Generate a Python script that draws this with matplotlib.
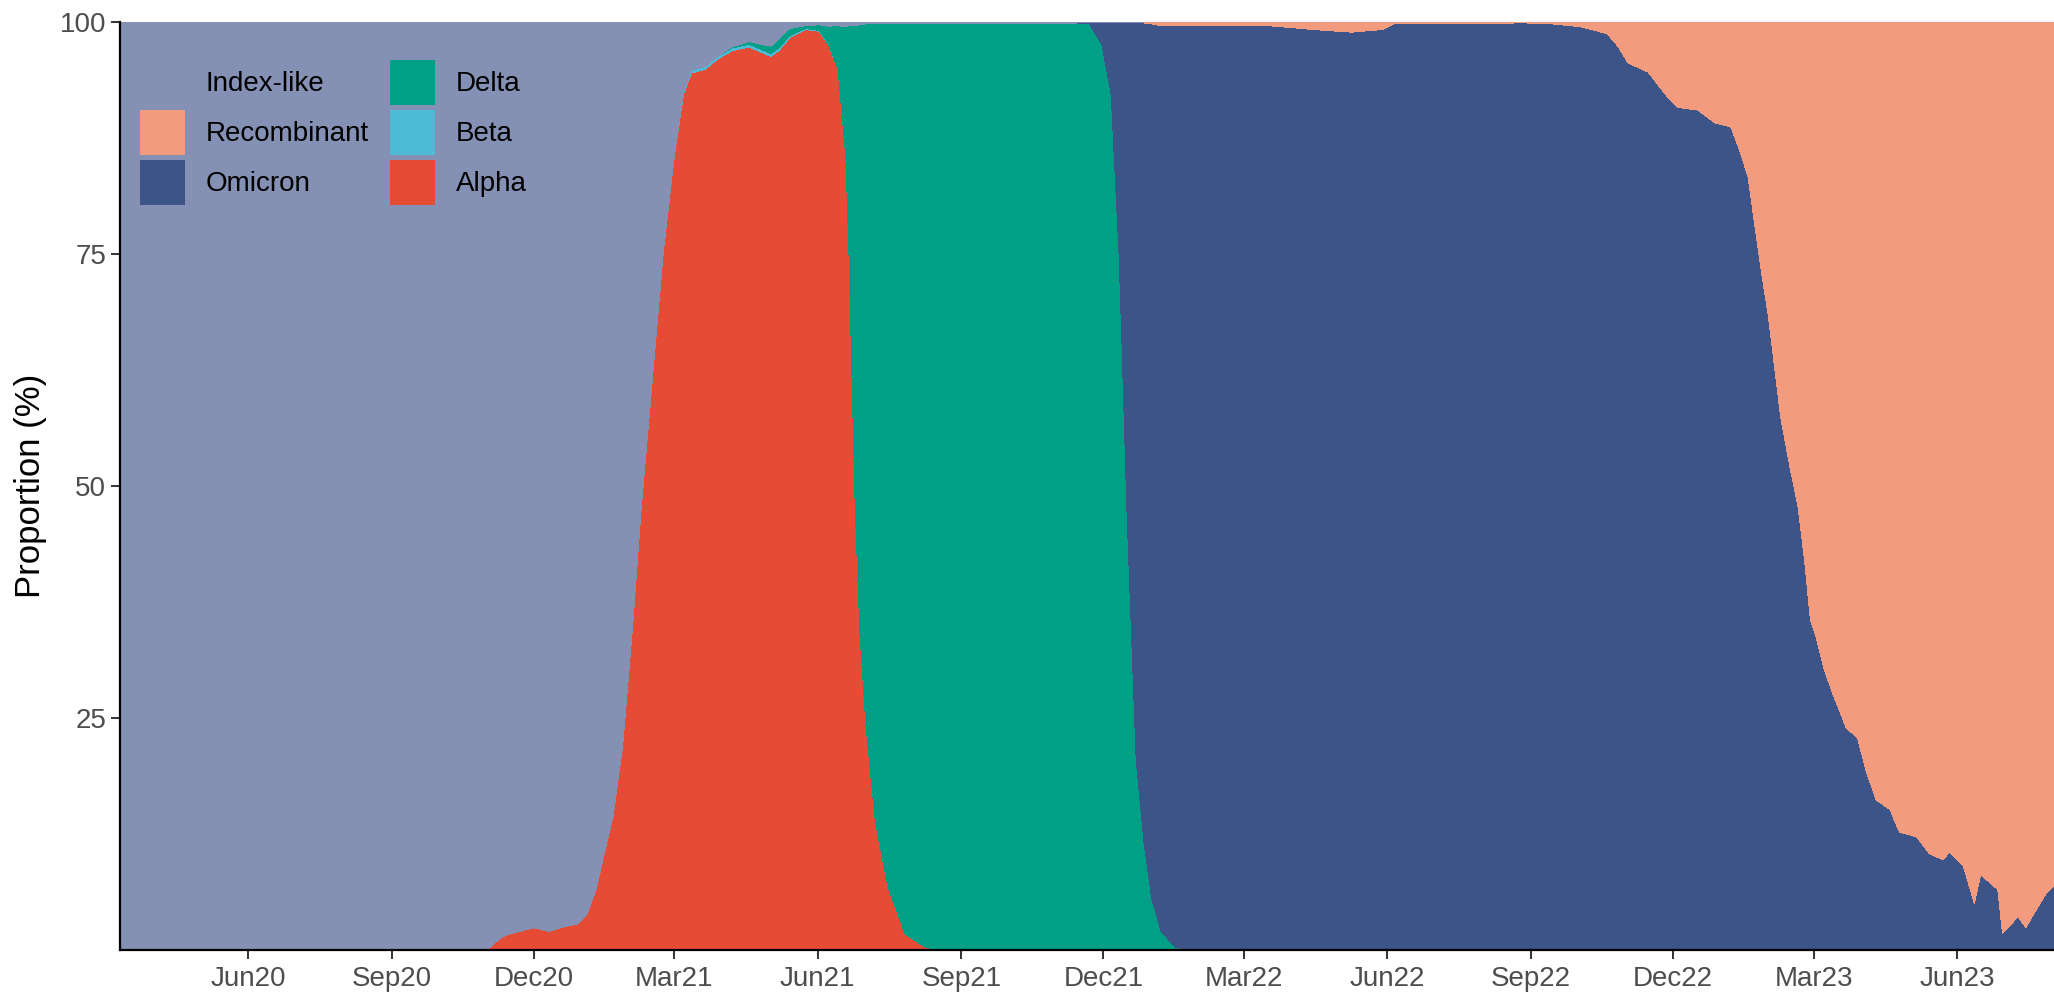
import matplotlib
matplotlib.use("Agg")
import matplotlib.pyplot as plt
import matplotlib.dates as mdates
import numpy as np
import pandas as pd

# sampled dates (irregular: denser where a variant takes over)
dates = [
    "2020-03-11", "2020-11-01", "2020-11-03", "2020-11-10", "2020-11-15", "2020-11-22", "2020-12-01", "2020-12-11", "2020-12-18", "2020-12-29",
    "2021-01-04", "2021-01-10", "2021-01-14", "2021-01-21", "2021-01-27", "2021-02-02", "2021-02-08", "2021-02-15", "2021-02-22", "2021-03-01",
    "2021-03-07", "2021-03-12", "2021-03-21", "2021-03-28", "2021-04-07", "2021-04-18", "2021-04-25", "2021-05-02", "2021-05-07", "2021-05-14",
    "2021-05-24", "2021-06-02", "2021-06-08", "2021-06-14", "2021-06-19", "2021-06-21", "2021-06-23", "2021-06-25", "2021-06-28", "2021-07-02",
    "2021-07-08", "2021-07-16", "2021-07-27", "2021-08-09", "2021-08-17", "2021-11-22", "2021-11-30", "2021-12-06", "2021-12-09", "2021-12-11",
    "2021-12-13", "2021-12-16", "2021-12-19", "2021-12-22", "2021-12-27", "2022-01-01", "2022-01-07", "2022-01-16", "2022-01-25", "2022-03-17",
    "2022-04-14", "2022-05-09", "2022-05-29", "2022-06-05", "2022-08-28", "2022-09-14", "2022-10-02", "2022-10-14", "2022-10-20", "2022-10-27",
    "2022-11-02", "2022-11-15", "2022-11-26", "2022-12-04", "2022-12-17", "2022-12-28", "2023-01-07", "2023-01-13", "2023-01-18", "2023-01-22",
    "2023-01-26", "2023-01-31", "2023-02-04", "2023-02-08", "2023-02-14", "2023-02-19", "2023-02-23", "2023-02-27", "2023-03-03", "2023-03-08",
    "2023-03-14", "2023-03-22", "2023-03-29", "2023-04-04", "2023-04-10", "2023-04-19", "2023-04-25", "2023-05-06", "2023-05-14", "2023-05-23",
    "2023-05-27", "2023-06-05", "2023-06-12", "2023-06-16", "2023-06-21", "2023-06-27", "2023-06-30", "2023-07-04", "2023-07-10", "2023-07-15",
    "2023-07-19", "2023-07-28", "2023-08-02",
]

# proportions (%) per lineage at those dates
alpha = [
    0, 0, 0.3, 1.3, 1.7, 2.0, 2.4, 2.0, 2.4, 2.8,
    3.8, 6.5, 9.5, 14.5, 22, 34, 47.8, 61.4, 75.1, 85.4,
    92.2, 94.5, 94.9, 95.9, 96.9, 97.3, 96.8, 96.3, 96.9, 98.3,
    99.2, 99.0, 97.5, 94.9, 85.4, 75.1, 61.4, 47.8, 34.2, 23.9,
    13.7, 6.8, 1.7, 0.3, 0, 0, 0, 0, 0, 0,
    0, 0, 0, 0, 0, 0, 0, 0, 0, 0,
    0, 0, 0, 0, 0, 0, 0, 0, 0, 0,
    0, 0, 0, 0, 0, 0, 0, 0, 0, 0,
    0, 0, 0, 0, 0, 0, 0, 0, 0, 0,
    0, 0, 0, 0, 0, 0, 0, 0, 0, 0,
    0, 0, 0, 0, 0, 0, 0, 0, 0, 0,
    0, 0, 0,
]
beta = [
    0, 0, 0, 0, 0, 0, 0, 0, 0, 0,
    0, 0, 0, 0, 0, 0, 0, 0, 0, 0,
    0.2, 0.3, 0.3, 0.3, 0.3, 0.3, 0.3, 0.3, 0.3, 0.2,
    0.1, 0.1, 0.05, 0, 0, 0, 0, 0, 0, 0,
    0, 0, 0, 0, 0, 0, 0, 0, 0, 0,
    0, 0, 0, 0, 0, 0, 0, 0, 0, 0,
    0, 0, 0, 0, 0, 0, 0, 0, 0, 0,
    0, 0, 0, 0, 0, 0, 0, 0, 0, 0,
    0, 0, 0, 0, 0, 0, 0, 0, 0, 0,
    0, 0, 0, 0, 0, 0, 0, 0, 0, 0,
    0, 0, 0, 0, 0, 0, 0, 0, 0, 0,
    0, 0, 0,
]
delta = [
    0, 0, 0, 0, 0, 0, 0, 0, 0, 0,
    0, 0, 0, 0, 0, 0, 0, 0, 0, 0,
    0, 0, 0, 0, 0.1, 0.3, 0.5, 0.8, 1.0, 0.8,
    0.3, 0.6, 2.0, 4.7, 14.1, 24.5, 38.2, 51.8, 65.5, 75.9,
    86.1, 93.0, 98.1, 99.5, 99.8, 99.8, 97.6, 92.2, 81.9, 75.1,
    64.9, 47.8, 34.2, 20.5, 11.6, 5.5, 2.0, 0.3, 0, 0,
    0, 0, 0, 0, 0, 0, 0, 0, 0, 0,
    0, 0, 0, 0, 0, 0, 0, 0, 0, 0,
    0, 0, 0, 0, 0, 0, 0, 0, 0, 0,
    0, 0, 0, 0, 0, 0, 0, 0, 0, 0,
    0, 0, 0, 0, 0, 0, 0, 0, 0, 0,
    0, 0, 0,
]
omicron = [
    0, 0, 0, 0, 0, 0, 0, 0, 0, 0,
    0, 0, 0, 0, 0, 0, 0, 0, 0, 0,
    0, 0, 0, 0, 0, 0, 0, 0, 0, 0,
    0, 0, 0, 0, 0, 0, 0, 0, 0, 0,
    0, 0, 0, 0, 0, 0.1, 2.3, 7.7, 18.0, 24.8,
    35.0, 52.1, 65.7, 79.4, 88.3, 94.3, 97.6, 99.3, 99.6, 99.6,
    99.2, 98.9, 99.2, 99.8, 99.9, 99.8, 99.5, 99.0, 98.7, 97.3,
    95.6, 94.6, 92.2, 90.8, 90.5, 89.1, 88.7, 86.0, 83.3, 78.5,
    73.7, 68.3, 62.8, 57.3, 51.9, 47.8, 42.3, 35.5, 33.5, 30.1,
    27.3, 23.9, 22.9, 19.1, 16.2, 15.1, 12.7, 12.2, 10.4, 9.7,
    10.6, 9.0, 5.0, 8.1, 7.4, 6.5, 1.8, 2.5, 3.6, 2.4,
    3.6, 6.1, 7.0,
]
recombinant = [
    0, 0, 0, 0, 0, 0, 0, 0, 0, 0,
    0, 0, 0, 0, 0, 0, 0, 0, 0, 0,
    0, 0, 0, 0, 0, 0, 0, 0, 0, 0,
    0, 0, 0, 0, 0, 0, 0, 0, 0, 0,
    0, 0, 0, 0, 0, 0, 0, 0, 0, 0,
    0, 0, 0, 0, 0.1, 0.2, 0.4, 0.4, 0.4, 0.4,
    0.8, 1.1, 0.8, 0.2, 0.1, 0.2, 0.5, 1.0, 1.3, 2.7,
    4.4, 5.4, 7.8, 9.2, 9.5, 10.9, 11.3, 14.0, 16.7, 21.5,
    26.3, 31.7, 37.2, 42.7, 48.1, 52.2, 57.7, 64.5, 66.5, 69.9,
    72.7, 76.1, 77.1, 80.9, 83.8, 84.9, 87.3, 87.8, 89.6, 90.3,
    89.4, 91.0, 95.0, 91.9, 92.6, 93.5, 98.2, 97.5, 96.4, 97.6,
    96.4, 93.9, 93.0,
]

labels = ["Alpha", "Beta", "Delta", "Omicron", "Recombinant", "Index-like"]
colors = ["#E64B35", "#4DBBD5", "#00A087", "#3C5488", "#F39B7F", "#8491B4"]

x = pd.to_datetime(dates)
named = np.array([alpha, beta, delta, omicron, recombinant], dtype=float)
index_like = np.clip(100 - named.sum(axis=0), 0, None)   # whatever is left is index-like
ys = np.vstack([named, index_like])

plt.rcParams["font.family"] = ["Liberation Sans", "DejaVu Sans"]

W, H = 2054, 993
fig = plt.figure(figsize=(W / 100, H / 100), dpi=100)
L, R, T, B = 120, 2054, 22, 950
ax = fig.add_axes([L / W, 1 - B / H, (R - L) / W, (B - T) / H])

polys = ax.stackplot(x, ys, colors=colors, labels=labels, linewidth=0)
for p in polys:
    p.set_antialiased(False)

ax.set_xlim(pd.Timestamp("2020-03-11"), pd.Timestamp("2023-08-02"))
ax.set_ylim(0, 100)
ax.set_yticks([25, 50, 75, 100])
ax.xaxis.set_major_locator(mdates.MonthLocator(bymonth=[3, 6, 9, 12]))
ax.xaxis.set_major_formatter(mdates.DateFormatter("%b%y"))

for s in ["top", "right"]:
    ax.spines[s].set_visible(False)
for s in ["left", "bottom"]:
    ax.spines[s].set_linewidth(1.6)
    ax.spines[s].set_color("black")
    ax.spines[s].set_zorder(5)
ax.tick_params(axis="both", length=6.5, width=1.4, color="#333333",
               labelcolor="#4D4D4D", labelsize=20)
ax.tick_params(axis="x", pad=5)
ax.tick_params(axis="y", pad=3.5)

fig.text(31 / W, 1 - 486 / H, "Proportion (%)", rotation=90, ha="center", va="center",
         fontsize=25, color="black")

# legend: ggplot order (top of stack first), two columns, square keys
h, lab = ax.get_legend_handles_labels()
order = [5, 4, 3, 2, 1, 0]
ax.legend([h[i] for i in order], [lab[i] for i in order], ncol=2,
          loc="upper left", bbox_to_anchor=((140 - L) / (R - L), 1 - (60 - T) / (B - T)),
          frameon=False, fontsize=20, handlelength=1.62, handleheight=2.115,
          labelspacing=0.18, handletextpad=0.75, columnspacing=0.75,
          borderpad=0, borderaxespad=0)

fig.savefig("out.png", dpi=100)
